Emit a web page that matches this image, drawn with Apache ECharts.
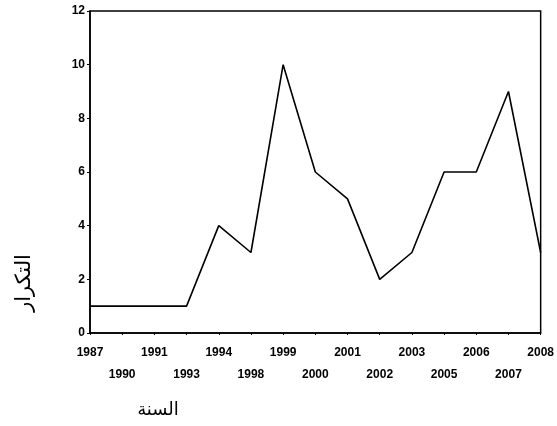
<!DOCTYPE html>
<html>
<head>
<meta charset="utf-8">
<script src="https://cdn.jsdelivr.net/npm/echarts@6/dist/echarts.min.js"></script>
<style>html,body{margin:0;padding:0;background:#fff}#c{width:557px;height:426px}</style>
</head>
<body>
<div id="c"></div>
<script>
var years = ['1987','1990','1991','1993','1994','1998','1999','2000','2001','2002','2003','2005','2006','2007','2008'];
var counts = [1,1,1,1,4,3,10,6,5,2,3,6,6,9,3];
var yTicks = [0,2,4,6,8,10,12];
var xTitle = 'السنة';
var yTitle = 'التكرار';

var chart = echarts.init(document.getElementById('c'), null, {renderer:'canvas'});
chart.setOption({
  animation: false,
  backgroundColor: '#fff',
  grid: {left: 90, right: 9, top: 11, bottom: 93, show: true, borderColor: '#000', borderWidth: 1.5},
  xAxis: {
    type: 'category', data: years, boundaryGap: false,
    axisLine: {lineStyle: {color: '#000', width: 1.5}},
    axisTick: {show: true, length: 2, lineStyle: {color: '#000'}},
    axisLabel: {
      color: '#000', fontFamily: 'Liberation Sans', fontWeight: 'bold', fontSize: 12,
      margin: 9, lineHeight: 22, interval: 0,
      formatter: function (v, i) { return i % 2 ? '\n' + v : v; }
    },
    splitLine: {show: false}
  },
  yAxis: {
    type: 'value', min: yTicks[0], max: yTicks[yTicks.length - 1], interval: 2,
    axisLine: {show: true, lineStyle: {color: '#000', width: 1.5}},
    axisTick: {show: true, length: 3, lineStyle: {color: '#000'}},
    axisLabel: {color: '#000', fontFamily: 'Liberation Sans', fontWeight: 'bold', fontSize: 12, margin: 5},
    splitLine: {show: false}
  },
  series: [{
    type: 'line', data: counts, showSymbol: false, symbol: 'none',
    lineStyle: {color: '#000', width: 1.6}
  }],
  graphic: [
    {type: 'text', x: 25, y: 283, rotation: Math.PI / 2,
     style: {text: yTitle, font: '21px "DejaVu Sans"', fill: '#000', textAlign: 'center', textVerticalAlign: 'middle'}},
    {type: 'text', x: 158, y: 410,
     style: {text: xTitle, font: '18px "DejaVu Sans"', fill: '#000', textAlign: 'center', textVerticalAlign: 'middle'}}
  ]
});
</script>
</body>
</html>
